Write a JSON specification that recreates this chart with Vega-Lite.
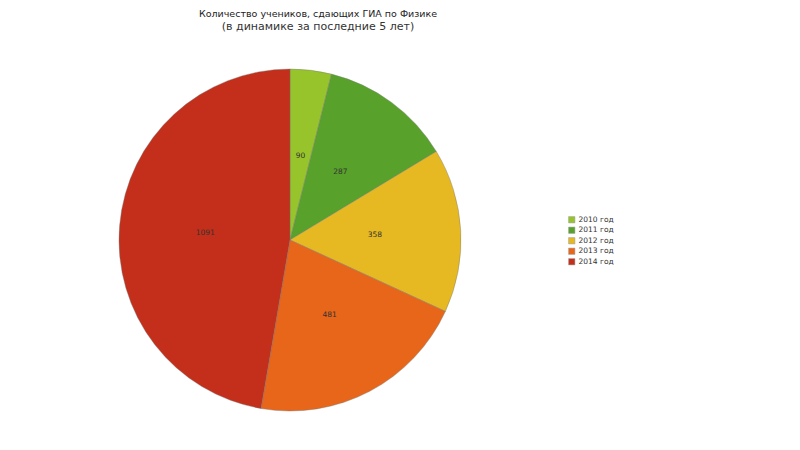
{
  "$schema": "https://vega.github.io/schema/vega-lite/v6.json",
  "width": 342,
  "height": 342,
  "autosize": {"type": "none"},
  "padding": {"left": 119, "top": 69, "right": 339, "bottom": 39},
  "background": "white",
  "title": {
    "text": "Количество учеников, сдающих ГИА по Физике",
    "subtitle": "(в динамике за последние 5 лет)",
    "anchor": "middle",
    "dx": 28,
    "offset": 36,
    "font": "DejaVu Sans",
    "fontSize": 9.5,
    "fontWeight": "normal",
    "color": "#222",
    "subtitleFont": "DejaVu Sans",
    "subtitleFontSize": 11,
    "subtitleColor": "#333",
    "subtitlePadding": 3
  },
  "data": {
    "values": [
      {"year": "2010 год", "count": 90},
      {"year": "2011 год", "count": 287},
      {"year": "2012 год", "count": 358},
      {"year": "2013 год", "count": 481},
      {"year": "2014 год", "count": 1091}
    ]
  },
  "encoding": {
    "theta": {"field": "count", "type": "quantitative", "stack": true},
    "color": {
      "field": "year",
      "type": "nominal",
      "scale": {"range": ["#97c42a", "#58a12a", "#e6b922", "#e8661a", "#c32f1a"]},
      "legend": {
        "title": null,
        "orient": "none",
        "legendX": 449,
        "legendY": 147,
        "symbolType": "square",
        "symbolSize": 40,
        "symbolStrokeColor": "#999",
        "symbolStrokeWidth": 0.5,
        "labelFont": "DejaVu Sans",
        "labelFontSize": 7.5,
        "labelColor": "#333",
        "rowPadding": 1.5,
        "labelOffset": 3
      }
    }
  },
  "layer": [
    {
      "mark": {"type": "arc", "stroke": "#777", "strokeWidth": 0.4}
    },
    {
      "mark": {"type": "text", "radius": 85, "font": "DejaVu Sans", "fontSize": 7.5, "color": "#333"},
      "encoding": {
        "text": {"field": "count", "type": "quantitative"},
        "color": {"value": "#333"}
      }
    }
  ],
  "config": {"view": {"stroke": null}}
}
